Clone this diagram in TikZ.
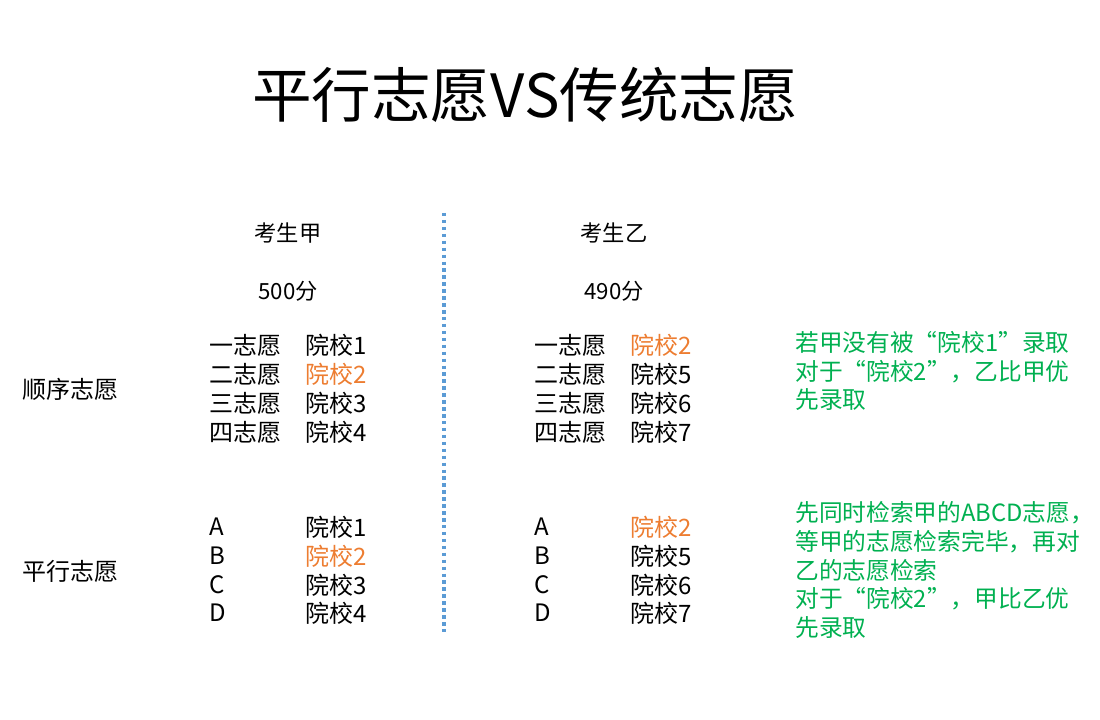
\documentclass[tikz,border=0pt]{standalone}
\usepackage{fontspec}
\setmainfont{Noto Sans CJK SC}
\newfontfamily\cjk{Noto Sans CJK SC}
\definecolor{hl}{HTML}{ED7D31}
\definecolor{gr}{HTML}{00B050}
\definecolor{bl}{HTML}{5B9BD5}
\begin{document}
\begin{tikzpicture}[x=0.75pt,y=-0.75pt,
  txt/.style={anchor=west,inner sep=0pt,font=\cjk\fontsize{18}{21}\selectfont},
  hdr/.style={anchor=center,inner sep=0pt,font=\cjk\fontsize{16.7}{20}\selectfont},
  note/.style={anchor=west,inner sep=0pt,text=gr,font=\cjk\fontsize{17.8}{21.7}\selectfont,align=left},
  ttl/.style={anchor=center,inner sep=0pt,font=\cjk\fontsize{44.7}{50}\selectfont}]
\useasboundingbox (0,0) rectangle (1100,720);
\node[ttl] (title) at (525,95) {平行志愿VS传统志愿};
\node[hdr] (ha) at (288,233) {考生甲};
\node[hdr] (hb) at (614,233) {考生乙};
\node[hdr] (sa) at (288,291) {500分};
\node[hdr] (sb) at (614,291) {490分};
\coordinate (dtop) at (444,213);
\coordinate (dbot) at (444,632);
\draw[bl,line width=2.6pt,dash pattern=on 2.6pt off 2.6pt] (dtop) -- (dbot);
% row labels
\node[txt] (seq) at (22,389) {顺序志愿};
\node[txt] (par) at (22,571) {平行志愿};
% sequential, A
\node[txt] (a1) at (209,345) {一志愿};
\node[txt] (a2) at (209,374) {二志愿};
\node[txt] (a3) at (209,403) {三志愿};
\node[txt] (a4) at (209,432) {四志愿};
\node[txt] (as1) at (305,345) {院校1};
\node[txt,text=hl] (as2) at (305,374) {院校2};
\node[txt] (as3) at (305,403) {院校3};
\node[txt] (as4) at (305,432) {院校4};
% sequential, B
\node[txt] (b1) at (534,345) {一志愿};
\node[txt] (b2) at (534,374) {二志愿};
\node[txt] (b3) at (534,403) {三志愿};
\node[txt] (b4) at (534,432) {四志愿};
\node[txt,text=hl] (bs1) at (630,345) {院校2};
\node[txt] (bs2) at (630,374) {院校5};
\node[txt] (bs3) at (630,403) {院校6};
\node[txt] (bs4) at (630,432) {院校7};
% parallel, A
\node[txt] (pa1) at (209,527) {A};
\node[txt] (pa2) at (209,556) {B};
\node[txt] (pa3) at (209,585) {C};
\node[txt] (pa4) at (209,613) {D};
\node[txt] (pas1) at (305,527) {院校1};
\node[txt,text=hl] (pas2) at (305,556) {院校2};
\node[txt] (pas3) at (305,585) {院校3};
\node[txt] (pas4) at (305,613) {院校4};
% parallel, B
\node[txt] (pb1) at (534,527) {A};
\node[txt] (pb2) at (534,556) {B};
\node[txt] (pb3) at (534,585) {C};
\node[txt] (pb4) at (534,613) {D};
\node[txt,text=hl] (pbs1) at (630,527) {院校2};
\node[txt] (pbs2) at (630,556) {院校5};
\node[txt] (pbs3) at (630,585) {院校6};
\node[txt] (pbs4) at (630,613) {院校7};
% notes
\node[note] (n1) at (795,371) {若甲没有被“院校1”录取\\对于“院校2”，乙比甲优\\先录取};
\node[note] (n2) at (795,570) {先同时检索甲的ABCD志愿，\\等甲的志愿检索完毕，再对\\乙的志愿检索\\对于“院校2”，甲比乙优\\先录取};
\end{tikzpicture}
\end{document}
